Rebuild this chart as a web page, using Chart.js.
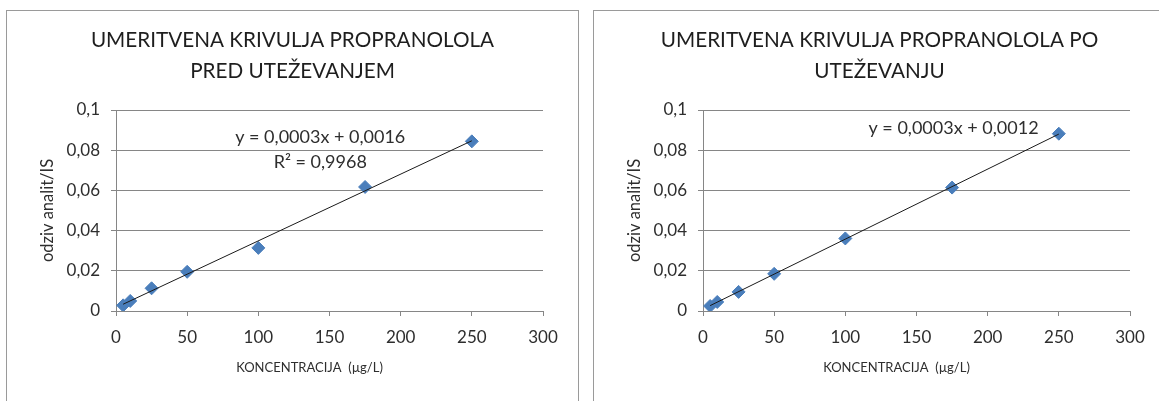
<!DOCTYPE html>
<html>
<head>
<meta charset="utf-8">
<script src="https://cdn.jsdelivr.net/npm/chart.js@4.4.1/dist/chart.umd.min.js"></script>
<style>
html,body{margin:0;padding:0;background:#fff;width:1159px;height:401px;overflow:hidden}
.box{position:absolute;top:10px;width:571px;height:400px;border:1px solid #9a9a9a}
#boxA{left:6px}
#boxB{left:593px}
.box canvas{position:absolute;left:0;top:0}
</style>
</head>
<body>
<div class="box" id="boxA"><canvas id="cA" width="571" height="390"></canvas></div>
<div class="box" id="boxB"><canvas id="cB" width="571" height="390"></canvas></div>
<script>
/* calibration data */
const concA = [5, 10, 25, 50, 100, 175, 250];
const respA = [0.0028, 0.005, 0.0113, 0.0195, 0.0314, 0.0617, 0.0844];
const concB = [5, 10, 25, 50, 100, 175, 250];
const respB = [0.0025, 0.0045, 0.0095, 0.0185, 0.0361, 0.0614, 0.0882];
const xTicks = [0, 50, 100, 150, 200, 250, 300];
const yTicks = [0, 0.02, 0.04, 0.06, 0.08, 0.1];
const titleA = ['UMERITVENA KRIVULJA PROPRANOLOLA', 'PRED UTEŽEVANJEM'];
const titleB = ['UMERITVENA KRIVULJA PROPRANOLOLA PO', 'UTEŽEVANJU'];
const eqA = ['y = 0,0003x + 0,0016', 'R² = 0,9968'];
const eqB = ['y = 0,0003x + 0,0012'];
const xTitle = 'KONCENTRACIJA  (µg/L)';
const yTitle = 'odziv analit/IS';

const GRID = '#868686', TXT = '#2e2e2e', FONT = 'Lato';

// least squares trendline from the points
function fit(xs, ys){
  const n = xs.length;
  const mx = xs.reduce((a,b)=>a+b,0)/n, my = ys.reduce((a,b)=>a+b,0)/n;
  let sxy = 0, sxx = 0;
  xs.forEach((x,i)=>{ sxy += (x-mx)*(ys[i]-my); sxx += (x-mx)*(x-mx); });
  const b = sxy/sxx;
  return {a: my - b*mx, b};
}

const texts = {
  id: 'texts',
  afterDatasetsDraw(chart, args, o){
    const ctx = chart.ctx, {x, y} = chart.scales;
    ctx.save();
    ctx.textAlign = 'center'; ctx.textBaseline = 'middle';
    ctx.fillStyle = '#1e1e1e';
    ctx.font = '20.7px ' + FONT;
    o.title.forEach((t,i)=>ctx.fillText(t, chart.width/2, 29 + i*31));
    ctx.fillStyle = TXT;
    ctx.font = '18px ' + FONT;
    const ex = x.getPixelForValue(o.eqAt[0]), ey = y.getPixelForValue(o.eqAt[1]);
    o.eq.forEach((t,i)=>ctx.fillText(t, ex, ey + i*25));
    ctx.font = '13px ' + FONT;
    ctx.fillText(xTitle, (chart.chartArea.left + chart.chartArea.right)/2 - 20, 357);
    ctx.restore();
  }
};

function makeChart(id, conc, resp, title, eq, eqAt){
  const f = fit(conc, resp);
  const x0 = Math.min(...conc), x1 = Math.max(...conc);
  return new Chart(document.getElementById(id), {
    type: 'scatter',
    data: {datasets: [
      {label: 'trend', order: 0, showLine: true, borderColor: '#1a1a1a', borderWidth: 1, pointRadius: 0,
       data: [{x: x0, y: f.a + f.b*x0}, {x: x1, y: f.a + f.b*x1}]},
      {label: 'odziv', order: 1, pointStyle: 'rectRot', pointRadius: 6.5,
       backgroundColor: '#4a7ebb', borderColor: '#4a7ebb', borderWidth: 1,
       data: conc.map((c,i)=>({x: c, y: resp[i]}))}
    ]},
    options: {
      responsive: false, animation: false, events: [],
      layout: {padding: {left: 31, right: 35, top: 99, bottom: 25}},
      plugins: {legend: {display: false}, tooltip: {enabled: false}, title: {display: false},
                texts: {title, eq, eqAt}},
      scales: {
        x: {type: 'linear', min: 0, max: 300,
            afterBuildTicks: s => { s.ticks = xTicks.map(v=>({value: v})); },
            afterFit: s => { s.height = 65; },
            grid: {drawOnChartArea: false, color: GRID, tickLength: 5},
            border: {color: GRID},
            ticks: {color: TXT, font: {family: FONT, size: 17}, padding: 11, maxRotation: 0}},
        y: {type: 'linear', min: 0, max: 0.1,
            afterBuildTicks: s => { s.ticks = yTicks.map(v=>({value: v})); },
            afterFit: s => { s.width = 78; },
            grid: {color: GRID, tickLength: 5},
            border: {color: GRID},
            ticks: {color: TXT, font: {family: FONT, size: 17}, padding: 11,
                    callback: v => String(+v.toFixed(2)).replace('.', ',')},
            title: {display: true, text: yTitle, color: TXT, padding: 0, font: {family: FONT, size: 16.5}}}
      }
    },
    plugins: [texts]
  });
}

makeChart('cA', concA, respA, titleA, eqA, [143.5, 0.0866]);
makeChart('cB', concB, respB, titleB, eqB, [176, 0.091]);
</script>
</body>
</html>
